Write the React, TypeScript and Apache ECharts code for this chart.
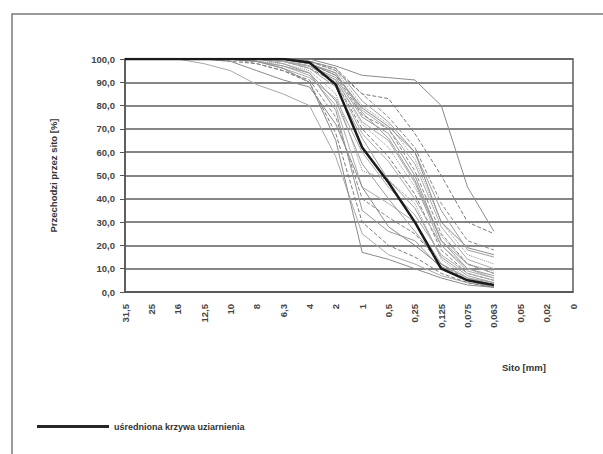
import React, { useEffect, useRef } from "react";
import * as echarts from "echarts";

const categories = ["31,5", "25", "16", "12,5", "10", "8", "6,3", "4", "2", "1", "0,5", "0,25", "0,125", "0,075", "0,063", "0,05", "0,02", "0"];
const yTickLabels = ["0,0", "10,0", "20,0", "30,0", "40,0", "50,0", "60,0", "70,0", "80,0", "90,0", "100,0"];

const meanName = "uśredniona krzywa uziarnienia";
const meanCurve = [100, 100, 100, 100, 100, 100, 100, 98.5, 89, 62, 47, 30, 10, 5, 3];

const s1 = [100, 100, 100, 100, 100, 100, 100, 100, 97, 93, 92, 91, 80, 45, 26];
const s2 = [100, 100, 100, 100, 100, 100, 100, 99, 95, 85, 83, 68, 50, 30, 25];
const s3 = [100, 100, 100, 100, 100, 100, 100, 99, 96, 82, 73, 60, 35, 18, 15];
const s4 = [100, 100, 100, 100, 100, 100, 100, 99, 95, 80, 72, 57, 30, 16, 12];
const s5 = [100, 100, 100, 100, 100, 100, 100, 98, 94, 78, 70, 55, 28, 14, 10];
const s6 = [100, 100, 100, 100, 100, 100, 100, 98, 93, 76, 70, 52, 25, 12, 8];
const s7 = [100, 100, 100, 100, 100, 100, 99, 97, 92, 75, 68, 50, 22, 10, 7];
const s8 = [100, 100, 100, 100, 100, 100, 99, 97, 91, 73, 65, 47, 20, 9, 6];
const s9 = [100, 100, 100, 100, 100, 100, 100, 98, 93, 79, 71, 60, 30, 19, 16];
const s10 = [100, 100, 100, 100, 100, 100, 99, 96, 90, 70, 58, 42, 18, 8, 5];
const s11 = [100, 100, 100, 100, 100, 100, 99, 96, 88, 66, 48, 36, 15, 7, 4];
const s12 = [100, 100, 100, 100, 100, 99, 98, 95, 85, 52, 48, 38, 14, 6, 3];
const s13 = [100, 100, 100, 100, 100, 99, 97, 93, 80, 45, 38, 30, 12, 6, 3];
const s14 = [100, 100, 100, 100, 99, 98, 95, 91, 75, 40, 32, 25, 12, 5, 2];
const s15 = [100, 100, 100, 100, 100, 99, 97, 94, 78, 35, 26, 22, 10, 5, 2];
const s16 = [100, 100, 100, 98, 95, 89, 85, 80, 58, 25, 16, 12, 7, 4, 2];
const s17 = [100, 100, 100, 100, 99, 95, 91, 88, 72, 45, 28, 20, 11, 5, 3];
const s18 = [100, 100, 100, 100, 100, 98, 95, 90, 68, 30, 20, 15, 8, 4, 2];
const s19 = [100, 100, 100, 100, 100, 100, 98, 94, 82, 55, 40, 26, 12, 6, 4];
const s20 = [100, 100, 100, 100, 100, 100, 100, 97, 91, 72, 62, 45, 24, 12, 9];
const s21 = [100, 100, 100, 100, 100, 100, 99, 97, 90, 68, 56, 40, 20, 10, 6];
const s22 = [100, 100, 100, 100, 100, 100, 100, 99, 96, 85, 75, 62, 38, 22, 18];
const s23 = [100, 100, 100, 100, 100, 100, 100, 98, 94, 77, 66, 48, 22, 12, 8];
const s24 = [100, 100, 100, 100, 100, 99, 96, 92, 83, 60, 45, 33, 16, 8, 5];
const s25 = [100, 100, 100, 100, 100, 99, 96, 90, 65, 17, 14, 10, 6, 3, 2];

const thinSeries = [s1, s2, s3, s4, s5, s6, s7, s8, s9, s10, s11, s12, s13, s14, s15, s16, s17, s18, s19, s20, s21, s22, s23, s24, s25];
const thinColors = ["#8a8a8a", "#7a7a7a", "#9e9e9e", "#909090", "#acacac", "#858585", "#999999", "#a8a8a8"];
const thinTypes = ["solid", "dashed", "solid", "dotted", "solid", "dashed", "solid", "solid"];

export default function App() {
  const ref = useRef<HTMLDivElement>(null);
  useEffect(() => {
    document.body.style.margin = "0";
    const chart = echarts.init(ref.current!, null, { renderer: "svg" });
    const font = "Liberation Sans";
    const series: any[] = thinSeries.map((d, i) => ({
      type: "line",
      name: "s" + (i + 1),
      data: d,
      symbol: "none",
      silent: true,
      lineStyle: { color: thinColors[i % thinColors.length], width: 1, type: thinTypes[i % thinTypes.length] },
      z: 2,
    }));
    series.push({
      type: "line",
      name: meanName,
      data: meanCurve,
      symbol: "none",
      lineStyle: { color: "#1a1a1a", width: 2.5 },
      itemStyle: { color: "#262626" },
      z: 5,
    });
    chart.setOption({
      animation: false,
      backgroundColor: "#ffffff",
      textStyle: { fontFamily: font },
      grid: { left: 125, right: 30, top: 59, bottom: 162, show: true, borderColor: "#5e5e5e", borderWidth: 1.5 },
      legend: {
        data: [meanName],
        left: 32,
        top: 417,
        icon: "rect",
        itemWidth: 72,
        itemHeight: 3,
        itemGap: 10,
        textStyle: { fontFamily: font, fontSize: 9, color: "#333", fontWeight: "bold" },
      },
      xAxis: {
        type: "category",
        data: categories,
        boundaryGap: false,
        axisLine: { lineStyle: { color: "#555", width: 1.5 } },
        axisTick: { show: false },
        axisLabel: { interval: 0, rotate: 90, margin: 12, fontSize: 9.5, fontWeight: "bold", color: "#444", fontFamily: font },
        splitLine: { show: false },
      },
      yAxis: {
        type: "value",
        min: 0,
        max: 100,
        interval: 10,
        name: "Przechodzi przez sito [%]",
        nameLocation: "middle",
        nameGap: 67,
        nameRotate: 90,
        nameTextStyle: { fontSize: 9.5, fontWeight: "bold", color: "#333", fontFamily: font },
        axisLine: { show: true, lineStyle: { color: "#555", width: 1.5 } },
        axisTick: { show: true, length: 5, lineStyle: { color: "#555" } },
        axisLabel: {
          fontSize: 9.5,
          fontWeight: "bold",
          color: "#444",
          margin: 10,
          fontFamily: font,
          formatter: (v: number) => yTickLabels[Math.round(v / 10)],
        },
        splitLine: { lineStyle: { color: "#5e5e5e", width: 1.5 } },
      },
      graphic: [
        { type: "rect", shape: { x: 12, y: 14, width: 600, height: 450 }, style: { fill: "none", stroke: "#7a7a7a", lineWidth: 1.5 }, silent: true },
        { type: "text", left: 502, top: 362, style: { text: "Sito [mm]", fontSize: 9.5, fontWeight: "bold", fill: "#333", fontFamily: font } },
      ],
      series,
    });
    return () => chart.dispose();
  }, []);
  return <div ref={ref} style={{ width: 603, height: 454 }} />;
}
